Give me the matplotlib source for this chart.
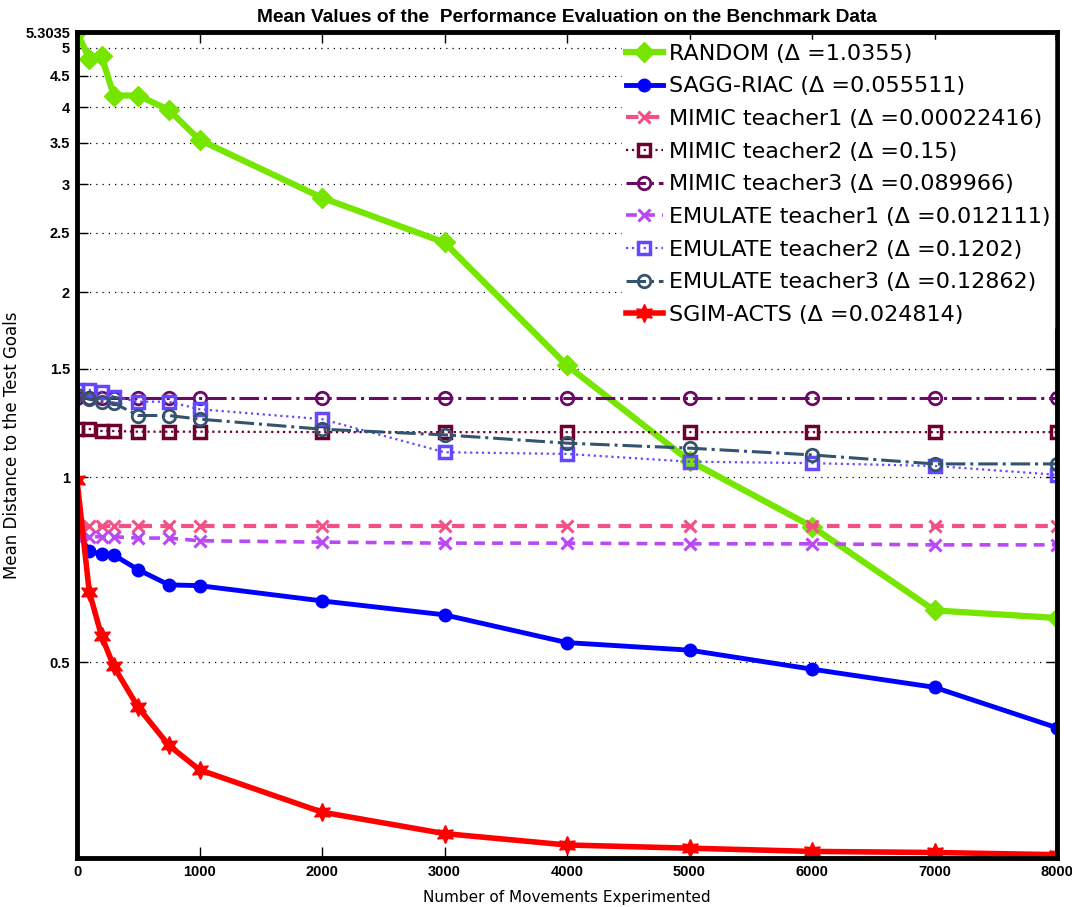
import matplotlib
matplotlib.use("Agg")
import matplotlib.pyplot as plt
import numpy as np

x = [0, 100, 200, 300, 500, 750, 1000, 2000, 3000, 4000, 5000, 6000, 7000, 8000]

random_v = [5.3035, 4.80, 4.85, 4.18, 4.18, 3.96, 3.54, 2.85, 2.41, 1.52, 1.063, 0.831, 0.607, 0.590]
sagg_v = [0.82, 0.757, 0.75, 0.747, 0.707, 0.668, 0.666, 0.629, 0.597, 0.538, 0.523, 0.487, 0.455, 0.391]
mimic1_v = [0.832] * 14
mimic2_v = [1.198, 1.198, 1.189, 1.189, 1.186, 1.186, 1.186, 1.184, 1.184, 1.184, 1.184, 1.184, 1.184, 1.184]
mimic3_v = [1.347] * 14
emu1_v = [0.80, 0.80, 0.80, 0.80, 0.796, 0.796, 0.788, 0.784, 0.781, 0.781, 0.779, 0.779, 0.776, 0.776]
emu2_v = [1.387, 1.387, 1.378, 1.352, 1.327, 1.327, 1.290, 1.243, 1.098, 1.091, 1.060, 1.054, 1.043, 1.009]
emu3_v = [1.361, 1.339, 1.327, 1.320, 1.260, 1.260, 1.243, 1.197, 1.172, 1.136, 1.115, 1.087, 1.051, 1.051]
sgim_v = [0.99, 0.651, 0.552, 0.492, 0.422, 0.366, 0.334, 0.285, 0.263, 0.252, 0.249, 0.246, 0.245, 0.243]

labels = ["RANDOM (\u0394 =1.0355)", "SAGG-RIAC (\u0394 =0.055511)",
          "MIMIC teacher1 (\u0394 =0.00022416)", "MIMIC teacher2 (\u0394 =0.15)",
          "MIMIC teacher3 (\u0394 =0.089966)", "EMULATE teacher1 (\u0394 =0.012111)",
          "EMULATE teacher2 (\u0394 =0.1202)", "EMULATE teacher3 (\u0394 =0.12862)",
          "SGIM-ACTS (\u0394 =0.024814)"]

ytick_vals = [0.5, 1, 1.5, 2, 2.5, 3, 3.5, 4, 4.5, 5, 5.3035]
ytick_labels = ["0.5", "1", "1.5", "2", "2.5", "3", "3.5", "4", "4.5", "5", "5.3035"]
xtick_vals = [0, 1000, 2000, 3000, 4000, 5000, 6000, 7000, 8000]

fig = plt.figure(figsize=(10.72, 9.07), dpi=100)
ax = fig.add_axes([77/1072, 1-858/907, (1057-77)/1072, (858-32)/907])

ax.plot(x, random_v, color='#76e600', lw=4.5, marker='D', ms=10, label=labels[0])
ax.plot(x, sagg_v, color='#0000ff', lw=3.5, marker='o', ms=9, label=labels[1])
ax.plot(x, mimic1_v, color='#f25086', lw=3, ls=(0, (3, 2)), marker='x', ms=8, mew=2.2, label=labels[2])
ax.plot(x, mimic2_v, color='#6e0030', lw=1.6, ls=':', marker='s', ms=9, mfc='none', mew=2.5, label=labels[3])
ax.plot(x, mimic3_v, color='#6a0a64', lw=2.2, ls='-.', marker='o', ms=9, mfc='none', mew=2, label=labels[4])
ax.plot(x, emu1_v, color='#b948f5', lw=2.6, ls=(0, (3, 2)), marker='x', ms=8, mew=2.2, label=labels[5])
ax.plot(x, emu2_v, color='#6448ff', lw=1.6, ls=':', marker='s', ms=9, mfc='none', mew=2.5, label=labels[6])
ax.plot(x, emu3_v, color='#34546e', lw=2.2, ls='-.', marker='o', ms=9, mfc='none', mew=2, label=labels[7])
ax.plot(x, sgim_v, color='#ff0000', lw=4, marker=(6, 1, 0), ms=13, label=labels[8])

ax.set_yscale('log')
ax.set_xlim(0, 8000)
ax.set_ylim(0.24, 5.3035)
ax.yaxis.set_minor_locator(matplotlib.ticker.NullLocator())
ax.set_yticks(ytick_vals)
ax.set_yticklabels(ytick_labels)
ax.set_xticks(xtick_vals)
ax.set_xticklabels([str(v) for v in xtick_vals])
ax.grid(axis='y', which='major', color='black', ls=(0, (1, 4)), lw=0.9)

for lbl in ax.get_xticklabels() + ax.get_yticklabels():
    lbl.set_fontfamily('Liberation Sans')
    lbl.set_fontweight('bold')
    lbl.set_fontsize(10.5)
ax.tick_params(direction='in', length=8, width=1, top=True, right=True, pad=5)
for sp in ax.spines.values():
    sp.set_linewidth(3.5)

ax.set_xlabel("Number of Movements Experimented", fontsize=11, labelpad=8)
ax.set_ylabel("Mean Distance to the Test Goals", fontsize=12)
ax.yaxis.set_label_coords((21 - 77) / 980, 0.5)
ax.set_title("Mean Values of the  Performance Evaluation on the Benchmark Data",
             fontsize=13.8, fontweight='bold', family='Liberation Sans', pad=7)

leg = ax.legend(loc='upper right', bbox_to_anchor=(1.0, 0.994), fontsize=16,
                frameon=True, fancybox=False,
                edgecolor='white', facecolor='white', framealpha=1,
                handlelength=1.7, handletextpad=0.25, labelspacing=0.57,
                borderaxespad=0.15, borderpad=0.15)

fig.savefig("out.png", dpi=100)
